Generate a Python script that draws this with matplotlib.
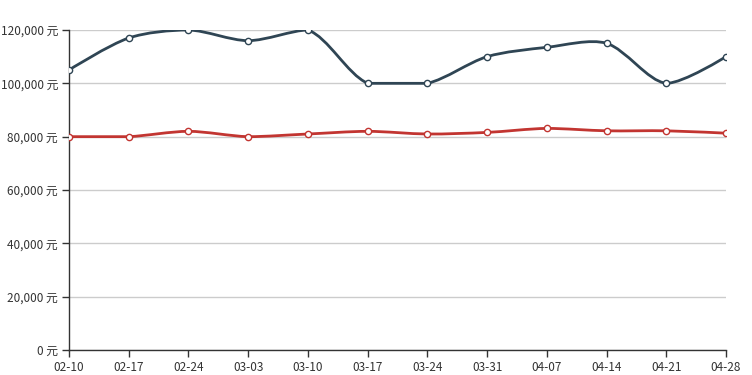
import numpy as np
import matplotlib
matplotlib.use('Agg')
import matplotlib.pyplot as plt
from matplotlib.path import Path
from matplotlib.patches import PathPatch

plt.rcParams['font.family'] = ['Noto Sans CJK SC', 'DejaVu Sans']

dates = ['02-10', '02-17', '02-24', '03-03', '03-10', '03-17',
         '03-24', '03-31', '04-07', '04-14', '04-21', '04-28']
high_price = [105000, 117000, 120000, 116000, 120000, 100000,
              100000, 110000, 113500, 115000, 100000, 110000]
low_price = [80000, 80000, 82000, 80000, 81000, 82000,
             81000, 81600, 83100, 82200, 82200, 81300]
y_ticks = [0, 20000, 40000, 60000, 80000, 100000, 120000]

DARK = '#2f4554'
RED = '#c23531'


def smooth_path(pts, smooth=0.3):
    # bezier smoothing, control points kept inside the points' bounding box
    pts = np.asarray(pts, dtype=float)
    lo = pts.min(axis=0)
    hi = pts.max(axis=0)
    n = len(pts)
    verts = [tuple(pts[0])]
    codes = [Path.MOVETO]
    cp0 = pts[0].copy()
    for i in range(1, n):
        p = pts[i]
        if i == n - 1:
            cp1 = p.copy()
            nxt_cp0 = p.copy()
        else:
            v = pts[i + 1] - pts[i - 1]
            lp = np.hypot(*(p - pts[i - 1]))
            ln = np.hypot(*(pts[i + 1] - p))
            r = ln / (lp + ln)
            cp1 = p - v * smooth * (1 - r)
            nxt_cp0 = p + v * smooth * r
        cp0 = np.clip(cp0, lo, hi)
        cp1 = np.clip(cp1, lo, hi)
        verts += [tuple(cp0), tuple(cp1), tuple(p)]
        codes += [Path.CURVE4] * 3
        cp0 = nxt_cp0
    return Path(verts, codes)


fig = plt.figure(figsize=(7.52, 3.75), dpi=100)
ax = fig.add_axes([69 / 752, 1 - 350 / 375, (726 - 69) / 752, 320 / 375])
x = np.arange(len(dates))
ax.set_xlim(0, len(dates) - 1)
ax.set_ylim(0, 120000)

for vals, col in [(high_price, DARK), (low_price, RED)]:
    disp = ax.transData.transform(np.column_stack([x, vals]))
    p = smooth_path(disp)
    p = Path(ax.transData.inverted().transform(p.vertices), p.codes)
    ax.add_patch(PathPatch(p, fill=False, edgecolor=col, lw=2, zorder=3))
    ax.plot(x, vals, 'o', ms=4.5, mfc='white', mec=col, mew=1, zorder=4)

ax.set_yticks(y_ticks)
ax.set_yticklabels(['{:,} 元'.format(v) for v in y_ticks])
ax.set_xticks(x)
ax.set_xticklabels(dates)
ax.grid(axis='y', color='#cccccc', lw=1)
ax.set_axisbelow(True)
for s in ['top', 'right']:
    ax.spines[s].set_visible(False)
for s in ['left', 'bottom']:
    ax.spines[s].set_color('#333333')
    ax.spines[s].set_linewidth(1)
ax.tick_params(colors='#333333', labelsize=8.5, length=5, width=1, pad=3)

fig.savefig('out.png', dpi=100)
